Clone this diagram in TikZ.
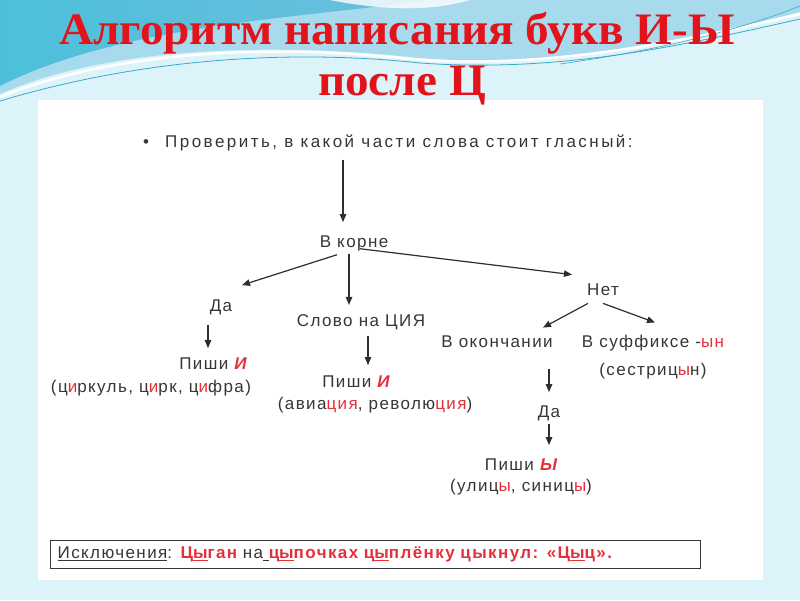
\documentclass[tikz,border=0pt]{standalone}
\usepackage{fontspec}
\setmainfont{Liberation Sans}
\newfontfamily\ttlfont{Liberation Serif}
\usetikzlibrary{arrows.meta,calc}
\definecolor{bgc}{HTML}{DDF3FA}
\definecolor{wavea}{HTML}{A6DAEC}
\definecolor{waveb}{HTML}{6DBEDD}
\definecolor{wavec}{HTML}{4CC0DA}
\definecolor{wline}{HTML}{3AA9C9}
\definecolor{ttlc}{HTML}{E3131B}
\definecolor{txtc}{HTML}{363636}
\definecolor{redc}{HTML}{E5303A}
\definecolor{arrc}{HTML}{2E2E2E}
\newcommand\mybody{\fontsize{17}{19}\selectfont\addfontfeatures{LetterSpace=8.3}}
\newcommand\mytop{\fontsize{17}{19}\selectfont\addfontfeatures{LetterSpace=14.5}}
\newcommand\rd[1]{\textcolor{redc}{#1}}
\newcommand\bigred[1]{\textcolor{redc}{\bfseries\itshape #1}}
\begin{document}
\begin{tikzpicture}[x=1pt,y=-1pt,
  tx/.style={font=\mybody, text=txtc, inner sep=0pt, anchor=base},
  arr/.style={draw=arrc, line width=1.2pt, -{Triangle[length=8pt,width=6.5pt]}},
  ttl/.style={font=\ttlfont\bfseries\fontsize{45}{50}\selectfont, text=ttlc, inner sep=0pt, anchor=base}]
\useasboundingbox (0,0) rectangle (800,600);
% background
\fill[bgc] (0,0) rectangle (800,600);
\fill[wavea] (0,0) -- (800,0) -- (800,12) .. controls (650,50) and (520,70) .. (400,56)
   .. controls (250,42) and (100,50) .. (0,94) -- cycle;
\shade[left color=wavec, right color=waveb] (0,0) -- (430,0) .. controls (300,18) and (120,25) .. (0,86) -- cycle;
\fill[white, opacity=0.8] (330,0) .. controls (380,10) and (430,12) .. (470,0) -- cycle;
\draw[white, line width=2.5pt] (0,97) .. controls (100,56) and (250,42) .. (400,58)
   .. controls (520,70) and (650,50) .. (800,14);
\draw[wline, line width=0.8pt] (0,101) .. controls (150,56) and (300,50) .. (420,63)
   .. controls (560,73) and (680,46) .. (800,19);
\draw[wline, line width=0.6pt] (560,64) .. controls (660,50) and (740,30) .. (800,6);
% panel
\fill[white] (38,100) rectangle (763,580);
% title
\node[ttl] (t1) at (397,44) {\scalebox{1.05}[1]{Алгоритм написания букв И-Ы}};
\node[ttl] (t2) at (402,95) {\scalebox{1.05}[1]{после Ц}};
% diagram text
\node[tx] (b) at (146,147) {•};
\node[tx, anchor=base west, font=\mytop] (q) at (165,147) {Проверить, в какой части слова стоит гласный:};
\node[tx] (k) at (354,247) {В корне};
\node[tx] (da1) at (221,311) {Да};
\node[tx] (slovo) at (361,326) {Слово на ЦИЯ};
\node[tx] (net) at (603,295) {Нет};
\node[tx] (okon) at (497,347) {В окончании};
\node[tx] (suff) at (653,347) {В суффиксе -\rd{ын}};
\node[tx] (sest) at (653,375) {(сестриц\rd{ы}н)};
\node[tx] (p1) at (213,369) {Пиши \bigred{И}};
\node[tx] (ex1) at (151,392) {(ц\rd{и}ркуль, ц\rd{и}рк, ц\rd{и}фра)};
\node[tx] (p2) at (356,387) {Пиши \bigred{И}};
\node[tx] (ex2) at (375,409) {(авиа\rd{ция}, револю\rd{ция})};
\node[tx] (da2) at (549,417) {Да};
\node[tx] (p3) at (521,470) {Пиши \bigred{Ы}};
\node[tx] (ex3) at (521,491) {(улиц\rd{ы}, синиц\rd{ы})};
% arrows
\draw[arr, shorten <=9pt, shorten >=13pt] (q.south -| 343,0) -- (k.north -| 343,0);
\draw[arr] ($(k.south)+(-17,4)$) -- ($(da1.north)+(21,-14)$);
\draw[arr] ($(k.south)+(-5,3)$) -- ($(slovo.north)+(-12,-9)$);
\draw[arr] ($(k.south)+(6,-2)$) -- ($(net.north)+(-31,-8.5)$);
\draw[arr] ($(net.south)+(-15,8)$) -- ($(okon.north)+(46,-7.5)$);
\draw[arr] ($(net.south)+(0,8)$) -- ($(suff.north)+(2,-12)$);
\draw[arr] ($(da1.south)+(-13,10)$) -- ($(p1.north)+(-5,-9)$);
\draw[arr] ($(slovo.south)+(7,6)$) -- ($(p2.north)+(12,-10)$);
\draw[arr] ($(okon.south)+(52,22)$) -- ($(da2.north)+(0,-13)$);
\draw[arr] ($(da2.south)+(0,3)$) -- ($(p3.north)+(28,-13)$);
% exceptions
\node[draw=txtc, line width=1.3pt, anchor=west, minimum height=28pt, inner xsep=7pt,
      text width=636pt, align=left, font=\mybody, text=txtc] (exc) at (50,554.5)
  {\underline{Исключения}: \textcolor{redc}{\bfseries Ц\underline{ы}ган} на\underline{ }\textcolor{redc}{\bfseries ц\underline{ы}почках ц\underline{ы}плёнку цыкнул: «Ц\underline{ы}ц».}};
\end{tikzpicture}
\end{document}
